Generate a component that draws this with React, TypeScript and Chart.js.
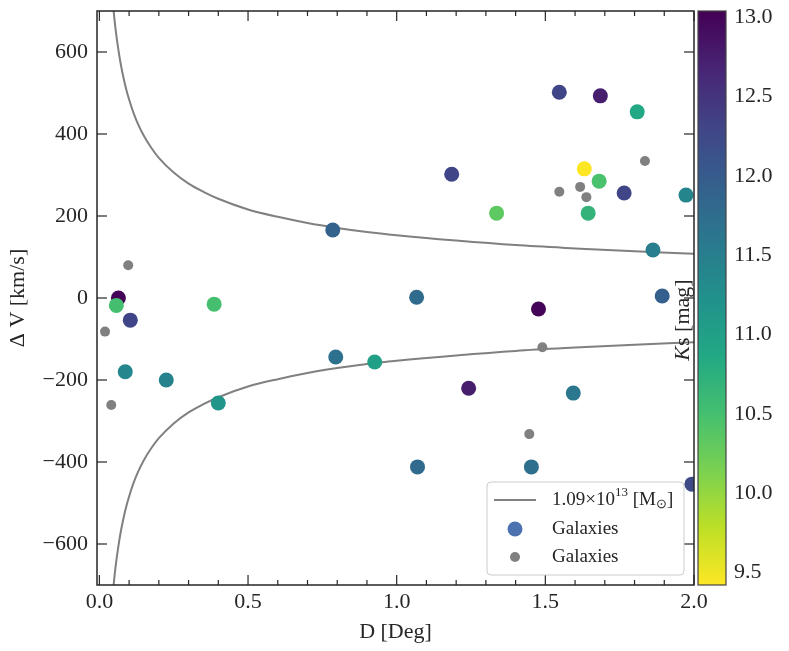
import { useEffect, useRef } from "react";
import { Chart, registerables, type Plugin } from "chart.js";

Chart.register(...registerables);

// Galaxies coloured by Ks magnitude
const galaxyD = [
  0.064, 0.057, 0.104, 0.386, 0.785, 0.087, 0.225, 0.4, 0.795, 0.926, 1.067, 1.07, 1.185, 1.242, 1.336,
  1.477, 1.453, 1.547, 1.685, 1.809, 1.631, 1.681, 1.765, 1.644, 1.973, 1.862, 1.893, 1.594, 1.993,
];
const galaxyDV = [
  0, -18, -54, -15, 166, -180, -200, -256, -144, -156, 2, -412, 302, -220, 207,
  -27, -412, 502, 493, 454, 315, 285, 256, 207, 251, 117, 5, -232, -454,
];
const galaxyKs = [
  13.0, 10.5, 12.3, 10.5, 11.9, 11.37, 11.45, 11.16, 11.7, 11.0, 11.8, 11.8, 12.3, 12.75, 10.33,
  13.0, 11.72, 12.3, 12.75, 10.87, 9.42, 10.47, 12.3, 10.69, 11.4, 11.5, 11.95, 11.6, 12.24,
];

// Galaxies without magnitude (grey)
const otherD = [0.097, 0.019, 0.04, 1.49, 1.446, 1.547, 1.617, 1.638, 1.835];
const otherDV = [80, -82, -261, -120, -332, 259, 271, 246, 334];

// Caustic curves for 1.09e13 Msun
const causticD = [
  0.048, 0.052, 0.057, 0.063, 0.07, 0.08, 0.09, 0.1, 0.115, 0.13, 0.15, 0.175, 0.2, 0.25,
  0.3, 0.35, 0.4, 0.5, 0.6, 0.7, 0.8, 0.9, 1.0, 1.2, 1.4, 1.6, 1.8, 2.0,
];
const causticUpper = [
  700, 671, 641, 610, 578, 541, 510, 484, 451, 424, 395, 366, 342, 306,
  279, 259, 242, 216, 198, 183, 171, 161, 153, 140, 129, 121, 114, 108,
];
const causticLower = [
  -700, -671, -641, -610, -578, -541, -510, -484, -451, -424, -395, -366, -342, -306,
  -279, -259, -242, -216, -198, -183, -171, -161, -153, -140, -129, -121, -114, -108,
];

const xTicks = [0, 0.5, 1.0, 1.5, 2.0];
const yTicks = [-600, -400, -200, 0, 200, 400, 600];
const ksTicks = [9.5, 10.0, 10.5, 11.0, 11.5, 12.0, 12.5, 13.0];
const KS_MIN = 9.42;
const KS_MAX = 13.04;

const INK = "#262626";
const FONT = "Liberation Serif";

const VIRIDIS = [
  "#440154", "#482475", "#414487", "#355f8d", "#2a788e", "#21918c",
  "#22a884", "#44bf70", "#7ad151", "#bddf26", "#fde725",
];

function hex(c: string) {
  return [1, 3, 5].map((i) => parseInt(c.slice(i, i + 2), 16));
}

function viridis(t: number) {
  const u = Math.min(1, Math.max(0, t)) * (VIRIDIS.length - 1);
  const i = Math.min(VIRIDIS.length - 2, Math.floor(u));
  const f = u - i;
  const a = hex(VIRIDIS[i]);
  const b = hex(VIRIDIS[i + 1]);
  const m = a.map((v, k) => Math.round(v + (b[k] - v) * f));
  return `rgb(${m[0]},${m[1]},${m[2]})`;
}

// viridis_r: bright = low magnitude
const ksColor = (ks: number) => viridis((KS_MAX - ks) / (KS_MAX - KS_MIN));

const decorations: Plugin<"scatter"> = {
  id: "decorations",
  afterDraw(chart) {
    const { ctx, chartArea: a, scales } = chart;
    const sx = scales.x;
    const sy = scales.y;
    ctx.save();

    // inward ticks on all four sides
    ctx.strokeStyle = INK;
    ctx.lineWidth = 1.2;
    const seg = (x1: number, y1: number, x2: number, y2: number) => {
      ctx.beginPath();
      ctx.moveTo(x1, y1);
      ctx.lineTo(x2, y2);
      ctx.stroke();
    };
    for (let k = 0; k <= 20; k++) {
      const v = k / 10;
      const px = sx.getPixelForValue(v);
      const len = k % 5 === 0 ? 10 : 5;
      seg(px, a.bottom, px, a.bottom - len);
      seg(px, a.top, px, a.top + len);
    }
    for (const v of yTicks) {
      const py = sy.getPixelForValue(v);
      seg(a.left, py, a.left + 10, py);
      seg(a.right, py, a.right - 10, py);
    }
    ctx.lineWidth = 1.5;
    ctx.strokeRect(a.left, a.top, a.right - a.left, a.bottom - a.top);

    // colour bar
    const cbL = a.right + 4;
    const cbW = 28;
    const grad = ctx.createLinearGradient(0, a.top, 0, a.bottom);
    VIRIDIS.forEach((c, i) => grad.addColorStop(i / (VIRIDIS.length - 1), c));
    ctx.fillStyle = grad;
    ctx.fillRect(cbL, a.top, cbW, a.bottom - a.top);
    ctx.lineWidth = 1.2;
    ctx.strokeStyle = "#444";
    ctx.strokeRect(cbL, a.top, cbW, a.bottom - a.top);
    ctx.fillStyle = INK;
    ctx.font = `22px "${FONT}"`;
    ctx.textAlign = "left";
    ctx.textBaseline = "middle";
    for (const v of ksTicks) {
      const py = a.bottom - ((v - KS_MIN) / (KS_MAX - KS_MIN)) * (a.bottom - a.top);
      ctx.fillText(v.toFixed(1), cbL + cbW + 8, py);
    }

    // colour bar label (sits over the plot, as in the original)
    ctx.save();
    ctx.translate(a.right - 11, 320);
    ctx.rotate(-Math.PI / 2);
    ctx.font = `italic 22px "${FONT}"`;
    const kW = ctx.measureText("K").width;
    ctx.font = `22px "${FONT}"`;
    const restW = ctx.measureText("s [mag]").width;
    let tx = -(kW + restW) / 2;
    ctx.font = `italic 22px "${FONT}"`;
    ctx.fillText("K", tx, 0);
    tx += kW;
    ctx.font = `22px "${FONT}"`;
    ctx.fillText("s [mag]", tx, 0);
    ctx.restore();

    // legend
    const lx = a.right - 207;
    const ly = a.bottom - 103;
    const lw = 197;
    const lh = 93;
    ctx.beginPath();
    ctx.roundRect(lx, ly, lw, lh, 4);
    ctx.fillStyle = "rgba(255,255,255,0.85)";
    ctx.fill();
    ctx.strokeStyle = "#cccccc";
    ctx.lineWidth = 1;
    ctx.stroke();

    const r1 = ly + 18;
    const r2 = ly + 47;
    const r3 = ly + 75;
    ctx.strokeStyle = "#808080";
    ctx.lineWidth = 2;
    seg(lx + 7, r1, lx + 49, r1);
    ctx.fillStyle = "#4c72b0";
    ctx.beginPath();
    ctx.arc(lx + 28, r2, 7.5, 0, Math.PI * 2);
    ctx.fill();
    ctx.fillStyle = "#808080";
    ctx.beginPath();
    ctx.arc(lx + 28, r3, 5, 0, Math.PI * 2);
    ctx.fill();

    ctx.fillStyle = INK;
    ctx.textBaseline = "middle";
    let cx = lx + 65;
    const big = `19px "${FONT}"`;
    const small = `13px "${FONT}"`;
    ctx.font = big;
    ctx.fillText("1.09\u00d710", cx, r1);
    cx += ctx.measureText("1.09\u00d710").width;
    ctx.font = small;
    ctx.fillText("13", cx, r1 - 7);
    cx += ctx.measureText("13").width;
    ctx.font = big;
    ctx.fillText(" [M", cx, r1);
    cx += ctx.measureText(" [M").width;
    ctx.font = small;
    ctx.fillText("\u2299", cx, r1 + 5);
    cx += ctx.measureText("\u2299").width;
    ctx.font = big;
    ctx.fillText("]", cx, r1);
    ctx.fillText("Galaxies", lx + 65, r2);
    ctx.fillText("Galaxies", lx + 65, r3);

    ctx.restore();
  },
};

export default function App() {
  const ref = useRef<HTMLCanvasElement>(null);

  useEffect(() => {
    document.body.style.margin = "0";
    if (!ref.current) return;
    const chart = new Chart(ref.current, {
      type: "scatter",
      data: {
        datasets: [
          {
            label: "Galaxies",
            data: galaxyD.map((d, i) => ({ x: d, y: galaxyDV[i] })),
            backgroundColor: galaxyKs.map(ksColor),
            borderWidth: 0,
            pointRadius: 7.5,
            clip: 0,
          },
          {
            label: "Galaxies (grey)",
            data: otherD.map((d, i) => ({ x: d, y: otherDV[i] })),
            backgroundColor: "#808080",
            borderWidth: 0,
            pointRadius: 5,
            clip: 0,
          },
          {
            label: "caustic +",
            data: causticD.map((d, i) => ({ x: d, y: causticUpper[i] })),
            showLine: true,
            borderColor: "#808080",
            borderWidth: 2,
            pointRadius: 0,
            cubicInterpolationMode: "monotone",
            clip: 0,
          },
          {
            label: "caustic -",
            data: causticD.map((d, i) => ({ x: d, y: causticLower[i] })),
            showLine: true,
            borderColor: "#808080",
            borderWidth: 2,
            pointRadius: 0,
            cubicInterpolationMode: "monotone",
            clip: 0,
          },
        ],
      },
      options: {
        responsive: true,
        maintainAspectRatio: false,
        animation: false,
        layout: { padding: { top: 11, right: 95, left: 0, bottom: 0 } },
        plugins: { legend: { display: false }, tooltip: { enabled: false } },
        scales: {
          x: {
            type: "linear",
            min: -0.008,
            max: 2.0,
            afterBuildTicks: (s) => {
              s.ticks = xTicks.map((v) => ({ value: v }));
            },
            afterFit: (s) => {
              s.height = 66;
              s.paddingLeft = 0;
              s.paddingRight = 0;
            },
            grid: { display: false, drawTicks: false },
            border: { display: false },
            ticks: {
              color: INK,
              padding: 4,
              maxRotation: 0,
              font: { family: FONT, size: 22 },
              callback: (v) => Number(v).toFixed(1),
            },
            title: {
              display: true,
              text: "D [Deg]",
              color: INK,
              padding: { top: 0, bottom: 6 },
              font: { family: FONT, size: 22 },
            },
          },
          y: {
            type: "linear",
            min: -700,
            max: 700,
            afterBuildTicks: (s) => {
              s.ticks = yTicks.map((v) => ({ value: v }));
            },
            afterFit: (s) => {
              s.width = 97;
              s.paddingTop = 0;
              s.paddingBottom = 0;
            },
            grid: { display: false, drawTicks: false },
            border: { display: false },
            ticks: {
              color: INK,
              padding: 9,
              font: { family: FONT, size: 22 },
              callback: (v) => (Number(v) < 0 ? "\u2212" + Math.abs(Number(v)) : String(v)),
            },
            title: {
              display: true,
              text: "\u0394 V [km/s]",
              color: INK,
              padding: { top: 5, bottom: 0 },
              font: { family: FONT, size: 22 },
            },
          },
        },
      },
      plugins: [decorations],
    });
    return () => {
      chart.destroy();
    };
  }, []);

  return (
    <div style={{ width: 789, height: 651, position: "relative" }}>
      <canvas ref={ref} />
    </div>
  );
}
